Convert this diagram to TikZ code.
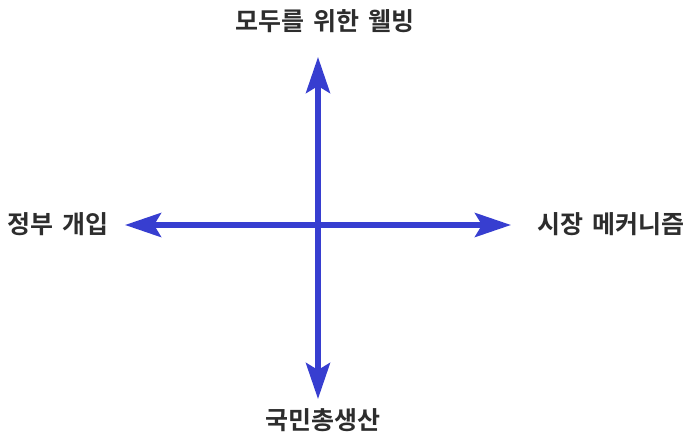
\documentclass[tikz,border=0pt]{standalone}
\usepackage{fontspec}
\setmainfont{Noto Sans CJK KR Bold}[WordSpace=1.6]
\usetikzlibrary{arrows.meta}
\definecolor{axisblue}{RGB}{55,62,208}
\definecolor{labelgray}{RGB}{45,45,45}
\begin{document}
\begin{tikzpicture}[x=1pt,y=-1pt,
  axis/.style={draw=axisblue,line width=5.5pt,
    {Stealth[length=36pt,width=24pt,inset=7pt]}-{Stealth[length=36pt,width=24pt,inset=7pt]}},
  lbl/.style={text=labelgray,font=\fontsize{25}{29}\selectfont,inner sep=0pt}]
\useasboundingbox (0,0) rectangle (691,439);
\coordinate (T) at (318,57);
\coordinate (B) at (318,399);
\coordinate (L) at (125,225);
\coordinate (R) at (511,225);
\draw[axis] (L) -- (R);
\draw[axis] (T) -- (B);
\node[lbl] (top) at (325,21) {모두를 위한 웰빙};
\node[lbl] (bottom) at (323,420) {국민총생산};
\node[lbl] (left) at (58,224) {정부 개입};
\node[lbl] (right) at (611,224) {시장 메커니즘};
\end{tikzpicture}
\end{document}
